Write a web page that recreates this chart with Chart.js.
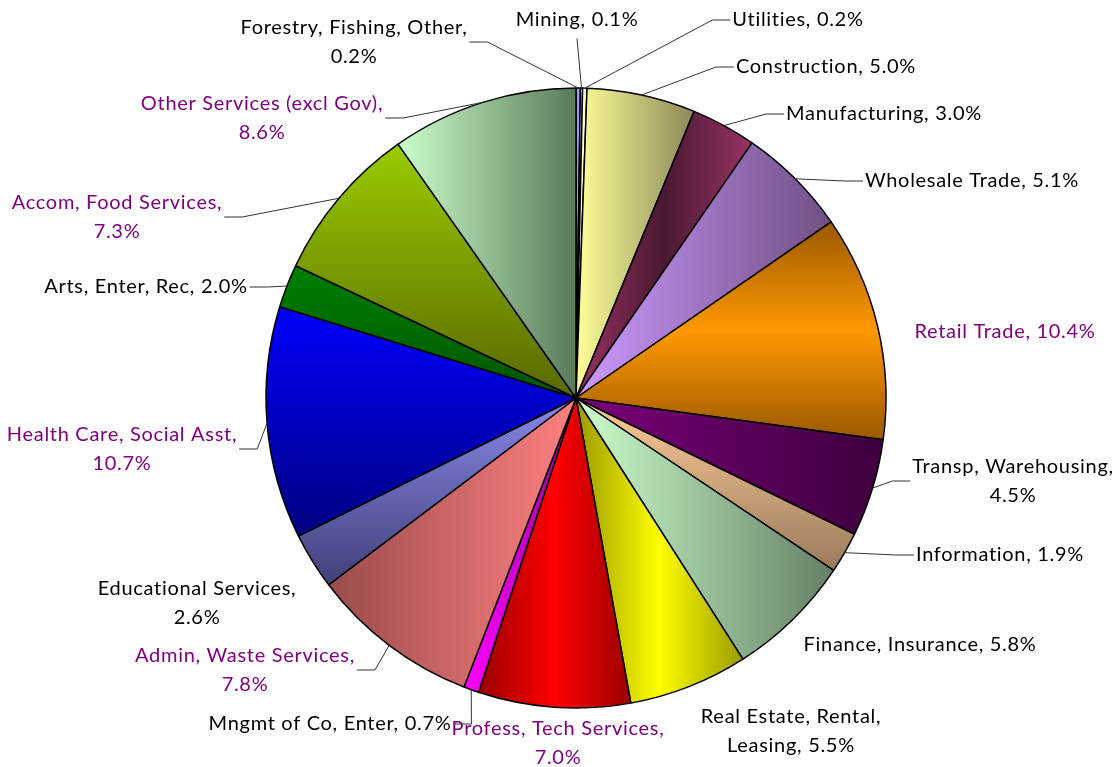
<!DOCTYPE html>
<html lang="en">
<head>
<meta charset="UTF-8">
<title>Industry shares</title>
<script src="https://cdn.jsdelivr.net/npm/chart.js"></script>
<style>
  body { margin: 0; background: #fff; }
  canvas { display: block; }
</style>
</head>
<body>
<canvas id="pieChart" width="1120" height="767"></canvas>
<script>
// data, in NAICS order, clockwise from 12 o'clock
const categories = [
  "Forestry, Fishing, Other", "Mining", "Utilities", "Construction", "Manufacturing",
  "Wholesale Trade", "Retail Trade", "Transp, Warehousing", "Information",
  "Finance, Insurance", "Real Estate, Rental, Leasing", "Profess, Tech Services",
  "Mngmt of Co, Enter", "Admin, Waste Services", "Educational Services",
  "Health Care, Social Asst", "Arts, Enter, Rec", "Accom, Food Services",
  "Other Services (excl Gov)"
];
const shares = [0.2, 0.1, 0.2, 5.0, 3.0, 5.1, 10.4, 4.5, 1.9, 5.8, 5.5, 7.0, 0.7, 7.8, 2.6, 10.7, 2.0, 7.3, 8.6];

// fill style per slice: [mode, colorA, colorB]
// h/v = linear left->right / top->bottom, hc/vc = A at edges, B in the middle
const fills = [
  ['flat', '#9999ff'], ['flat', '#ffffff'], ['flat', '#ffffcc'],
  ['h', '#ffff99', '#8a8858'], ['hc', '#993366', '#4a1830'], ['h', '#cc99ff', '#705084'],
  ['vc', '#9a5800', '#ff9900'], ['h', '#7a007a', '#3e003e'], ['v', '#ffcc99', '#9a7a5c'],
  ['h', '#ccffcc', '#668066'], ['hc', '#9a9a00', '#ffff00'], ['hc', '#9a0000', '#ff0000'],
  ['h', '#ff00ff', '#990099'], ['h', '#9a4c4c', '#ff8080'], ['v', '#8888e8', '#40407a'],
  ['v', '#0000ff', '#000080'], ['v', '#008000', '#005400'], ['v', '#99cc00', '#586800'],
  ['h', '#ccffcc', '#5a7a5a']
];

// label layout: block centre offset from pie centre, words on first line, leader side
const purple = '#800080';
const labelLayout = [
  {dx: -222, dy: -356, brk: 3, side: 'right'},
  {dx: 1, dy: -378, brk: 0, side: 'bottom'},
  {dx: 222, dy: -378, brk: 0, side: 'left'},
  {dx: 250, dy: -331, brk: 0, side: 'left'},
  {dx: 308, dy: -284, brk: 0, side: 'left'},
  {dx: 396, dy: -217, brk: 0, side: 'left'},
  {dx: 429, dy: -66, brk: 0, side: null, color: purple},
  {dx: 437, dy: 83, brk: 2, side: 'left'},
  {dx: 424, dy: 157, brk: 0, side: 'left'},
  {dx: 344, dy: 247, brk: 0, side: null},
  {dx: 215, dy: 333, brk: 3, side: null},
  {dx: -18, dy: 345, brk: 3, side: null, color: purple},
  {dx: -246, dy: 326, brk: 0, side: 'right'},
  {dx: -331, dy: 272, brk: 3, side: 'right', color: purple},
  {dx: -379, dy: 205, brk: 2, side: null},
  {dx: -454, dy: 51, brk: 4, side: 'right', color: purple},
  {dx: -430, dy: -111, brk: 0, side: 'right'},
  {dx: -459, dy: -181, brk: 3, side: 'right', color: purple},
  {dx: -314, dy: -280, brk: 4, side: 'right', color: purple}
];

const sliceShading = {
  id: 'sliceShading',
  beforeDatasetsDraw(chart) {
    const ctx = chart.ctx;
    chart.getDatasetMeta(0).data.forEach((arc, i) => {
      const [mode, a, b] = fills[i];
      let fill = a;
      if (mode !== 'flat') {
        const {x, y, startAngle, endAngle, outerRadius} = arc;
        let x0 = x, x1 = x, y0 = y, y1 = y;
        for (let k = 0; k <= 40; k++) {
          const t = startAngle + (endAngle - startAngle) * k / 40;
          const px = x + Math.cos(t) * outerRadius, py = y + Math.sin(t) * outerRadius;
          x0 = Math.min(x0, px); x1 = Math.max(x1, px);
          y0 = Math.min(y0, py); y1 = Math.max(y1, py);
        }
        fill = mode[0] === 'h' ? ctx.createLinearGradient(x0, 0, x1, 0)
                               : ctx.createLinearGradient(0, y0, 0, y1);
        if (mode.length > 1) {
          fill.addColorStop(0, a); fill.addColorStop(0.5, b); fill.addColorStop(1, a);
        } else {
          fill.addColorStop(0, a); fill.addColorStop(1, b);
        }
      }
      arc.options = Object.assign({}, arc.options, {backgroundColor: fill});
    });
  }
};

const LINE_H = 29;
const pieLabels = {
  id: 'pieLabels',
  afterDatasetsDraw(chart) {
    const ctx = chart.ctx;
    ctx.save();
    ctx.font = '20px Lato';
    ctx.letterSpacing = '0.7px';
    ctx.textAlign = 'center';
    ctx.textBaseline = 'middle';
    chart.getDatasetMeta(0).data.forEach((arc, i) => {
      const lay = labelLayout[i];
      const words = (categories[i] + ', ' + shares[i].toFixed(1) + '%').split(' ');
      const lines = lay.brk ? [words.slice(0, lay.brk).join(' '), words.slice(lay.brk).join(' ')]
                            : [words.join(' ')];
      const cx = arc.x + lay.dx, cy = arc.y + lay.dy;
      const w = Math.max(...lines.map(l => ctx.measureText(l).width));
      ctx.fillStyle = lay.color || '#000';
      lines.forEach((l, j) => ctx.fillText(l, cx, cy + (j - (lines.length - 1) / 2) * LINE_H));

      if (!lay.side) return;
      const mid = (arc.startAngle + arc.endAngle) / 2;
      const rx = arc.x + Math.cos(mid) * arc.outerRadius;
      const ry = arc.y + Math.sin(mid) * arc.outerRadius;
      ctx.strokeStyle = '#333';
      ctx.lineWidth = 1;
      ctx.beginPath();
      if (lay.side === 'bottom') {
        ctx.moveTo(cx, cy + LINE_H / 2 + 4);
        ctx.lineTo(rx, ry);
      } else {
        const dir = lay.side === 'right' ? 1 : -1;
        const ax = cx + dir * (w / 2 + 2);
        ctx.moveTo(ax, cy);
        ctx.lineTo(ax + dir * 18, cy);
        ctx.lineTo(rx, ry);
      }
      ctx.stroke();
    });
    ctx.restore();
  }
};

new Chart(document.getElementById('pieChart'), {
  type: 'pie',
  data: {
    labels: categories,
    datasets: [{
      data: shares,
      backgroundColor: fills.map(f => f[1]),
      borderColor: '#000',
      borderWidth: 1.5
    }]
  },
  options: {
    responsive: false,
    animation: false,
    events: [],
    radius: 310,
    layout: { padding: {top: 60, bottom: 31, left: 60, right: 28} },
    plugins: {
      legend: { display: false },
      tooltip: { enabled: false }
    }
  },
  plugins: [sliceShading, pieLabels]
});
</script>
</body>
</html>
